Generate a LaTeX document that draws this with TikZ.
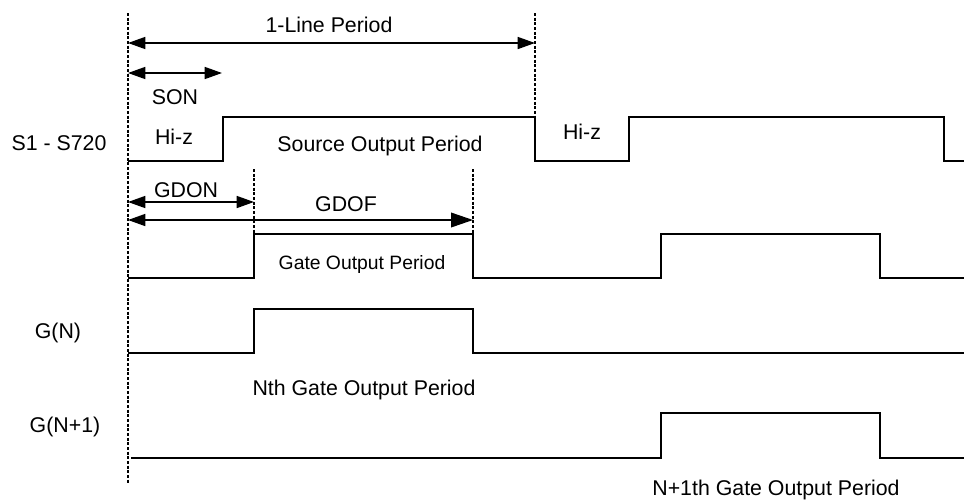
\documentclass[tikz,border=0pt]{standalone}
\usepackage{fontspec}
\setmainfont{Liberation Sans}
\usetikzlibrary{arrows.meta}

\tikzset{
	wave/.style={line width=1.6pt, line join=miter},
	guide/.style={line width=2.2pt, dash pattern=on 2.3pt off 1.2pt},
	span/.style={line width=1.2pt, {Triangle[length=13pt,width=9pt]}-{Triangle[length=13pt,width=9pt]}},
	long span/.style={line width=1.2pt, {Triangle[length=13pt,width=9pt]}-{Triangle[length=16.5pt,width=11pt]}},
	lbl/.style={inner sep=0.75pt, font=\fontsize{16}{19}\selectfont},
	small lbl/.style={inner sep=0.75pt, font=\fontsize{14.5}{17}\selectfont},
}

\begin{document}
\begin{tikzpicture}[x=0.75pt,y=0.75pt,yscale=-1,xscale=1]
		\path[use as bounding box] (0,0) rectangle (964,501);
		
		% Coordinates
		\coordinate (guideA1) at (128,13);
		\coordinate (guideA2) at (128,484);
		\coordinate (guideB1) at (535,13);
		\coordinate (guideB2) at (535,117);
		\coordinate (guideC1) at (254,169);
		\coordinate (guideC2) at (254,234);
		\coordinate (guideD1) at (473,169);
		\coordinate (guideD2) at (473,234);
		\coordinate (lineL) at (128,43);
		\coordinate (lineR) at (535,43);
		\coordinate (sonL) at (128,73);
		\coordinate (sonR) at (222,73);
		\coordinate (gdonL) at (128,202);
		\coordinate (gdonR) at (254,202);
		\coordinate (gdofL) at (128,220);
		\coordinate (gdofR) at (473,220);
		
		%Dotted Lines
		\draw [guide] (guideA1) -- (guideA2) ;
		\draw [guide] (guideB1) -- (guideB2) ;
		\draw [guide] (guideC1) -- (guideC2) ;
		\draw [guide] (guideD1) -- (guideD2) ;
		
		%Arrows
		\draw [span] (lineL) -- (lineR) ;
		\draw [span] (sonL) -- (sonR) ;
		\draw [span] (gdonL) -- (gdonR) ;
		\draw [long span] (gdofL) -- (gdofR) ;
		
		%Waveform: S1 - S720
		\draw [wave] (128,161) -- (223,161) -- (223,117) -- (535,117) -- (535,161) -- (629,161) -- (629,117) -- (944,117) -- (944,161) -- (964,161) ;
		%Waveform: gate output
		\draw [wave] (128,278) -- (254,278) -- (254,234) -- (473,234) -- (473,278) -- (661,278) -- (661,234) -- (880,234) -- (880,278) -- (964,278) ;
		%Waveform: G(N)
		\draw [wave] (128,353) -- (254,353) -- (254,309) -- (473,309) -- (473,353) -- (964,353) ;
		%Waveform: G(N+1)
		\draw [wave] (131,458) -- (661,458) -- (661,413) -- (880,413) -- (880,458) -- (964,458) ;
		
		% Text Node
		\node [lbl] (linetxt) at (329,25) {1-Line Period};
		% Text Node
		\node [lbl] (sontxt) at (175,97) {SON};
		% Text Node
		\node [lbl] (hiz1) at (174,137) {Hi-z};
		% Text Node
		\node [lbl] (hiz2) at (582,132) {Hi-z};
		% Text Node
		\node [lbl] (srctxt) at (380,146) {Source Output Period};
		% Text Node
		\node [lbl] (stxt) at (59,143) {S1 - S720};
		% Text Node
		\node [lbl] (gdontxt) at (186,190) {GDON};
		% Text Node
		\node [lbl] (gdoftxt) at (346,204) {GDOF};
		% Text Node
		\node [small lbl] (gatetxt) at (362,264) {Gate Output Period};
		% Text Node
		\node [lbl] (gntxt) at (58,333) {G(N)};
		% Text Node
		\node [lbl] (nthtxt) at (364,390) {Nth Gate Output Period};
		% Text Node
		\node [lbl] (gn1txt) at (65,427) {G(N+1)};
		% Text Node
		\node [lbl] (n1thtxt) at (776,490) {N+1th Gate Output Period};
		
	\end{tikzpicture}
\end{document}
